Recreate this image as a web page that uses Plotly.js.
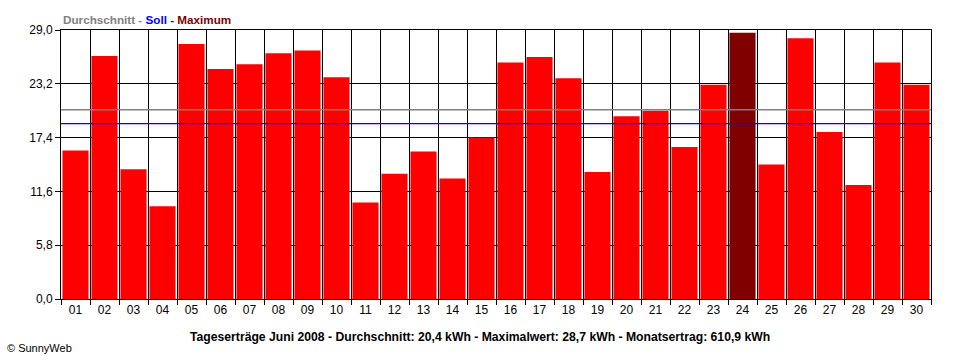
<!DOCTYPE html>
<html>
<head>
<meta charset="utf-8">
<script src="https://cdn.plot.ly/plotly-3.0.1.min.js"></script>
<style>
html,body{margin:0;padding:0;background:#fff;}
#chart{width:960px;height:360px;}
</style>
</head>
<body>
<div id="chart"></div>
<script>
const days = ["01","02","03","04","05","06","07","08","09","10","11","12","13","14","15","16","17","18","19","20","21","22","23","24","25","26","27","28","29","30"];
const yields = [16.0,26.2,14.0,10.0,27.5,24.8,25.3,26.5,26.8,23.9,10.4,13.5,15.9,13.0,17.4,25.5,26.1,23.8,13.7,19.7,20.3,16.4,23.1,28.7,14.5,28.1,18.0,12.3,25.5,23.1];
const maxDay = "24";
const averageValue = 20.4;
const targetValue = 18.9;
const yTickValues = [0, 5.8, 11.6, 17.4, 23.2, 29.0];
const yTickLabels = ["0,0", "5,8", "11,6", "17,4", "23,2", "29,0"];
const legendText = '<span style="color:#808080">Durchschnitt - </span><span style="color:#0000ff">Soll - </span><span style="color:#800000">Maximum</span>';
const footerText = "Tageserträge Juni 2008 - Durchschnitt: 20,4 kWh - Maximalwert: 28,7 kWh - Monatsertrag: 610,9 kWh";
const creditText = "© SunnyWeb";

const barColors = days.map(d => d === maxDay ? "#800000" : "#ff0000");
const font = "Liberation Sans, Arial, sans-serif";

const data = [{
  type: "bar",
  x: days,
  y: yields,
  marker: {color: barColors, line: {width: 0}},
  hoverinfo: "x+y"
}];

const layout = {
  width: 960, height: 360,
  margin: {l: 61, r: 29, t: 30, b: 61, pad: 0},
  paper_bgcolor: "#ffffff",
  plot_bgcolor: "#ffffff",
  showlegend: false,
  bargap: 0.1,
  font: {family: font, size: 12, color: "#000"},
  xaxis: {
    type: "category",
    tickson: "boundaries",
    showgrid: true, gridcolor: "#000", gridwidth: 1,
    ticks: "outside", ticklen: 5, tickcolor: "#000", tickwidth: 1,
    showline: true, linecolor: "#000", linewidth: 1, mirror: true,
    tickfont: {family: font, size: 12, color: "#000"},
    fixedrange: true
  },
  yaxis: {
    range: [0, 29],
    tickvals: yTickValues,
    ticktext: yTickLabels,
    showgrid: true, gridcolor: "#000", gridwidth: 1,
    zeroline: false,
    ticks: "outside", ticklen: 5, tickcolor: "#000", tickwidth: 1,
    showline: true, linecolor: "#000", linewidth: 1, mirror: true,
    tickfont: {family: font, size: 12, color: "#000"},
    fixedrange: true
  },
  shapes: [
    {type: "line", xref: "paper", yref: "y", x0: 0, x1: 1, y0: averageValue, y1: averageValue, line: {color: "#808080", width: 1.3}, layer: "above"},
    {type: "line", xref: "paper", yref: "y", x0: 0, x1: 1, y0: targetValue, y1: targetValue, line: {color: "#0000ff", width: 1.3}, layer: "above"}
  ],
  annotations: [
    {text: "<b>" + legendText + "</b>", xref: "paper", yref: "paper", x: 0, y: 1, xanchor: "left", yanchor: "bottom", yshift: 2, showarrow: false, font: {family: font, size: 11.7}},
    {text: "<b>" + footerText + "</b>", xref: "paper", yref: "paper", x: (480 - 61) / 870, xanchor: "center", y: 0, yanchor: "top", yshift: -29, showarrow: false, font: {family: font, size: 12.2, color: "#000"}},
    {text: creditText, xref: "paper", yref: "paper", x: (5 - 61) / 870, xanchor: "left", y: 0, yanchor: "top", yshift: -41, showarrow: false, font: {family: font, size: 11, color: "#000"}}
  ]
};

Plotly.newPlot("chart", data, layout, {displayModeBar: false, staticPlot: true});
</script>
</body>
</html>
